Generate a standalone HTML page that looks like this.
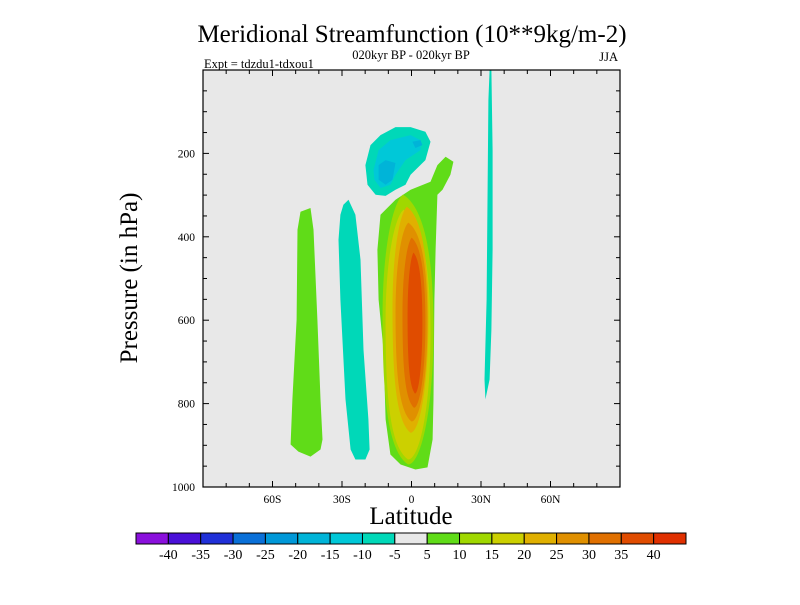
<!DOCTYPE html>
<html><head><meta charset="utf-8"><style>
body{margin:0;background:#fff}
svg text{font-family:"Liberation Serif",serif}
</style></head><body>
<svg id="chart" width="800" height="600" viewBox="0 0 800 600" xmlns="http://www.w3.org/2000/svg">
<rect x="0" y="0" width="800" height="600" fill="#fff"/>
<text x="412" y="42" font-size="25" text-anchor="middle">Meridional Streamfunction (10**9kg/m-2)</text>
<text x="204" y="68" font-size="12.5">Expt = tdzdu1-tdxou1</text>
<text x="411" y="59" font-size="12.5" text-anchor="middle">020kyr BP - 020kyr BP</text>
<text x="618" y="61" font-size="12.5" text-anchor="end">JJA</text>
<text transform="translate(137,278) rotate(-90)" font-size="25" text-anchor="middle">Pressure (in hPa)</text>
<text x="411" y="524" font-size="25" text-anchor="middle">Latitude</text>
<g id="plot"></g>
<g id="cbar"></g>
</svg>
<script>
const latTicks=[-60,-30,0,30,60];
const latTickLabels=["60S","30S","0","30N","60N"];
const pTicks=[200,400,600,800,1000];
const cbarLevels=[-40,-35,-30,-25,-20,-15,-10,-5,5,10,15,20,25,30,35,40];
const cbarColors=["#8a10dc","#4a10d8","#2030d8","#0a70d8","#0098d8","#00b4d8","#00c8d8","#00d8b8","#e8e8e8","#60dc18","#a0d800","#ccd000","#e0b000","#e09000","#e07000","#e04c00","#e03000"];
// contour polygons [lat, pressure]
const leftCellLevel=5;
const leftCell=[[-47.9,340],[-43.6,331],[-42.3,383],[-40.6,599],[-39.3,790],[-38.4,886],[-39.3,910],[-43.6,927],[-48.8,915],[-52.2,898],[-51.4,790],[-49.6,599],[-49.2,383]];
const midCellLevel=-5;
const midCell=[[-29.4,323],[-27.2,311],[-24.2,347],[-22.0,455],[-20.7,671],[-18.6,838],[-18.1,910],[-19.9,934],[-24.2,934],[-26.3,910],[-28.5,790],[-30.7,551],[-31.5,407],[-30.7,347]];
const upperCell5=[[-19.9,228],[-17.7,180],[-13.4,156],[-6.9,137],[-0.4,137],[6.0,148],[8.2,172],[6.0,216],[-0.4,251],[-2.6,275],[-6.9,287],[-11.2,302],[-15.5,299],[-19.0,275]];
const upperCell10=[[-16.4,240],[-14.2,192],[-9.1,168],[-0.4,156],[3.9,168],[3.9,192],[-2.6,216],[-6.9,251],[-9.1,275],[-13.4,283],[-16.0,263]];
const upperCell15a=[[-14.2,228],[-11.2,216],[-6.9,223],[-8.2,263],[-11.2,275],[-14.2,263]];
const upperCell15b=[[0.4,172],[3.9,168],[4.7,180],[1.7,187]];
const mainCell5=[[-13.4,347],[-6.9,311],[-0.4,287],[8.2,268],[11.2,228],[14.7,208],[18.1,220],[16.8,251],[13.4,287],[11.2,299],[10.4,431],[9.9,551],[9.5,790],[9.1,886],[6.9,953],[1.7,958],[-4.7,946],[-9.1,922],[-11.2,838],[-12.1,671],[-14.2,551],[-14.7,431]];
const rightStrip=[[33.7,0],[34.5,0],[35.0,192],[35.0,431],[34.5,623],[33.7,742],[31.9,790],[31.5,742],[32.4,551],[32.8,311],[33.2,72]];
// nested positive levels of main cell
const coreLevels=[10,15,20,25,30,35];
const coreLatL=[-12.5,-11.2,-8.2,-6.9,-3.9,-1.7];
const coreLatR=[9.5,8.2,7.3,6.9,6.0,4.7];
const corePTop=[299,335,328,366,402,438];
const corePBot=[946,934,870,843,810,776];

const X0=203,X1=620,Y0=70,Y1=487;
const xs=lat=>X0+(lat+90)/180*(X1-X0);
const ys=p=>Y0+p/1000*(Y1-Y0);
const NS="http://www.w3.org/2000/svg";
const plot=document.getElementById('plot');
function mk(tag,attrs,parent){const e=document.createElementNS(NS,tag);for(const k in attrs)e.setAttribute(k,attrs[k]);parent.appendChild(e);return e;}
function colorFor(v){let i=0;while(i<cbarLevels.length&&v>=cbarLevels[i])i++;if(v<0){i=0;while(i<cbarLevels.length&&v>cbarLevels[i])i++;}return cbarColors[i];}
const bg=mk('rect',{x:X0,y:Y0,width:X1-X0,height:Y1-Y0,fill:"#e8e8e8"},plot);


function poly(pts,color,name){
  const el=mk('polygon',{points:pts.map(p=>xs(p[0]).toFixed(1)+','+ys(p[1]).toFixed(1)).join(' '),fill:color},plot);
  
  
}
poly(leftCell,colorFor(leftCellLevel),'contour-left-cell');
poly(midCell,colorFor(midCellLevel),'contour-mid-cell');
poly(upperCell5,colorFor(-5),'contour-upper-cell-5');
poly(upperCell10,colorFor(-10),'contour-upper-cell-10');
poly(upperCell15a,colorFor(-15),'contour-upper-cell-15a');
poly(upperCell15b,colorFor(-15),'contour-upper-cell-15b');
poly(mainCell5,colorFor(5),'contour-main-cell-5');
poly(rightStrip,colorFor(-5),'contour-right-strip');
coreLevels.forEach((lv,i)=>{
  const L=xs(coreLatL[i]),R=xs(coreLatR[i]),T=ys(corePTop[i]),B=ys(corePBot[i]);
  const h=B-T,cx=(L+R)/2;
  const d=`M${cx-(R-L)*0.1},${T} C${R-(R-L)*0.15},${T+h*0.05} ${R},${T+h*0.25} ${R},${T+h*0.5} C${R},${T+h*0.8} ${cx+(R-L)*0.25},${B} ${cx},${B} C${L+(R-L)*0.1},${B-h*0.05} ${L},${T+h*0.75} ${L},${T+h*0.45} C${L},${T+h*0.2} ${cx-(R-L)*0.3},${T+h*0.03} ${cx-(R-L)*0.1},${T} Z`;
  const el=mk('path',{d:d,fill:colorFor(lv)},plot);
  
  
});
const frame=mk('rect',{x:X0,y:Y0,width:X1-X0,height:Y1-Y0,fill:"none",stroke:"#000","stroke-width":1.2},plot);


// ticks
for(let lat=-80;lat<=80;lat+=10){
  const maj=lat%30===0, len=maj?6:4;
  const t1=mk('line',{x1:xs(lat),x2:xs(lat),y1:Y1,y2:Y1-len,stroke:"#000"},plot);
  
  
  const t2=mk('line',{x1:xs(lat),x2:xs(lat),y1:Y0,y2:Y0+len,stroke:"#000"},plot);
  
  
}
for(let p=50;p<1000;p+=50){
  const maj=p%200===0,len=maj?6:4;
  const t1=mk('line',{x1:X0,x2:X0+len,y1:ys(p),y2:ys(p),stroke:"#000"},plot);
  
  
  const t2=mk('line',{x1:X1,x2:X1-len,y1:ys(p),y2:ys(p),stroke:"#000"},plot);
  
  
}
latTicks.forEach((lat,i)=>{
  const t=mk('text',{x:xs(lat),y:Y1+16,"font-size":11.5,"text-anchor":"middle"},plot);
  t.textContent=latTickLabels[i];
  
  
});
pTicks.forEach(p=>{
  const t=mk('text',{x:X0-8,y:ys(p)+4,"font-size":11.5,"text-anchor":"end"},plot);
  t.textContent=p;
  
  
});
// colorbar
const cb=document.getElementById('cbar');
const CX0=136,CX1=686,CY=533,CH=11,bw=(CX1-CX0)/cbarColors.length;
cbarColors.forEach((c,i)=>{
  const r=mk('rect',{x:CX0+i*bw,y:CY,width:bw,height:CH,fill:c,stroke:"#000","stroke-width":1},cb);
  
  
});
cbarLevels.forEach((v,i)=>{
  const t=mk('text',{x:CX0+(i+1)*bw,y:CY+CH+15,"font-size":14,"text-anchor":"middle"},cb);
  t.textContent=v;
  
  
});
</script>
</body></html>
